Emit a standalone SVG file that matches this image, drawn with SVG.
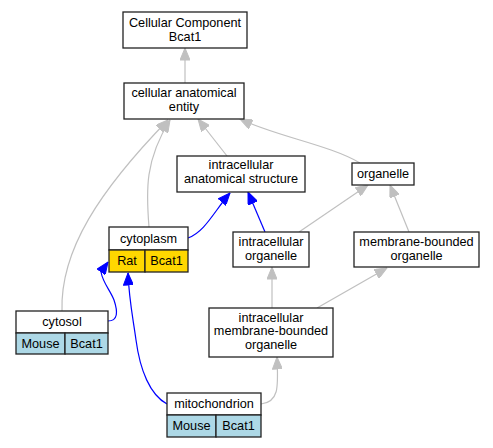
<svg xmlns="http://www.w3.org/2000/svg" width="493" height="448" viewBox="0 0 493 448">
<style>
text{font-family:"Liberation Sans",Arial,sans-serif;font-size:12.7px;fill:#000;text-anchor:middle}
.box{fill:#fff;stroke:#222;stroke-width:1.3}
.gold{fill:#ffd700;stroke:#222;stroke-width:1.3}
.lb{fill:#add8e6;stroke:#222;stroke-width:1.3}
.g{fill:none;stroke:#c0c0c0;stroke-width:1.2}
.b{fill:none;stroke:#0000ff;stroke-width:1.2}
</style>
<defs>
<marker id="ag" viewBox="0 0 12 10" refX="12" refY="5" markerWidth="13" markerHeight="10" markerUnits="userSpaceOnUse" orient="auto"><path d="M0,0 L12,5 L0,10 z" fill="#c0c0c0" stroke="#c0c0c0"/></marker>
<marker id="ab" viewBox="0 0 12 10" refX="12" refY="5" markerWidth="13" markerHeight="10" markerUnits="userSpaceOnUse" orient="auto"><path d="M0,0 L12,5 L0,10 z" fill="#0000ff" stroke="#0000ff"/></marker>
</defs>
<rect width="493" height="448" fill="#fff"/>
<g id="edges">
<path class="g" marker-end="url(#ag)" d="M185,83 L185,48"/>
<path class="g" marker-end="url(#ag)" d="M227,156 L198,119"/>
<path class="g" marker-end="url(#ag)" d="M360,163 C330,145 275,136 240,119"/>
<path class="g" marker-end="url(#ag)" d="M149,227 C146,190 145,160 170,120"/>
<path class="g" marker-end="url(#ag)" d="M62,311 C60,250 100,190 168,120"/>
<path class="g" marker-end="url(#ag)" d="M299,232 L368,185"/>
<path class="g" marker-end="url(#ag)" d="M409,232 L390,185"/>
<path class="g" marker-end="url(#ag)" d="M272,308 L272,267"/>
<path class="g" marker-end="url(#ag)" d="M317,308 L387,268"/>
<path class="g" marker-end="url(#ag)" d="M261,404 C280,402 278,385 277,357"/>
<path class="b" marker-end="url(#ab)" d="M188,238 C205,232 215,210 230,193"/>
<path class="b" marker-end="url(#ab)" d="M265,232 L248,192"/>
<path class="b" marker-end="url(#ab)" d="M108,321 C118,321 118,312 114,300 C110,290 103,283 101,272 L108,262"/>
<path class="b" marker-end="url(#ab)" d="M167,404 C150,395 140,370 136,340 C133,318 129,300 128,273"/>
</g>
<g id="cc"><rect class="box" x="123" y="12" width="124" height="36"/><text x="185" y="27">Cellular Component</text><text x="185" y="41">Bcat1</text></g>
<g id="cae"><rect class="box" x="124" y="83" width="120" height="36"/><text x="184" y="97">cellular anatomical</text><text x="184" y="111">entity</text></g>
<g id="ias"><rect class="box" x="177" y="156" width="128" height="36"/><text x="241" y="169">intracellular</text><text x="241" y="183">anatomical structure</text></g>
<g id="organelle"><rect class="box" x="352" y="163" width="62" height="22"/><text x="383" y="178">organelle</text></g>
<g id="cytoplasm"><rect class="box" x="109" y="227" width="79" height="23"/><rect class="gold" x="109" y="250" width="36" height="22"/><rect class="gold" x="145" y="250" width="43" height="22"/><text x="148.5" y="243">cytoplasm</text><text x="127" y="265">Rat</text><text x="166.5" y="265">Bcat1</text></g>
<g id="io"><rect class="box" x="233" y="232" width="76" height="35"/><text x="271" y="246">intracellular</text><text x="271" y="260">organelle</text></g>
<g id="mbo"><rect class="box" x="354" y="232" width="125" height="35"/><text x="416.5" y="246">membrane-bounded</text><text x="416.5" y="260">organelle</text></g>
<g id="imbo"><rect class="box" x="209" y="308" width="124" height="49"/><text x="271" y="322">intracellular</text><text x="271" y="335">membrane-bounded</text><text x="271" y="349">organelle</text></g>
<g id="cytosol"><rect class="box" x="16" y="311" width="92" height="22"/><rect class="lb" x="16" y="333" width="49" height="21"/><rect class="lb" x="65" y="333" width="43" height="21"/><text x="62" y="326">cytosol</text><text x="40.5" y="348">Mouse</text><text x="86.5" y="348">Bcat1</text></g>
<g id="mitochondrion"><rect class="box" x="167" y="393" width="94" height="22"/><rect class="lb" x="167" y="415" width="49" height="22"/><rect class="lb" x="216" y="415" width="45" height="22"/><text x="214" y="408">mitochondrion</text><text x="191.5" y="430">Mouse</text><text x="238.5" y="430">Bcat1</text></g>
</svg>
